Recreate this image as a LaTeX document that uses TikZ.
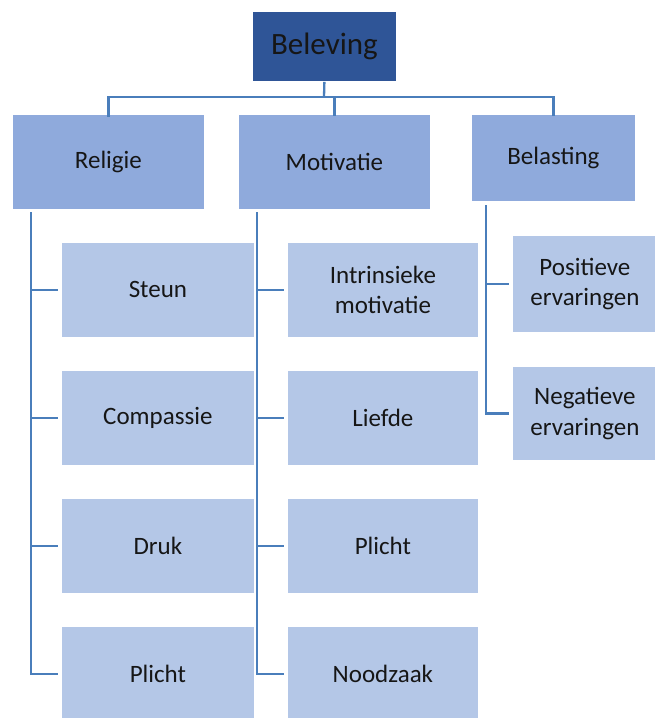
\documentclass[tikz,border=0pt]{standalone}
\usepackage{fontspec}
\setmainfont{Carlito}
\definecolor{topfill}{HTML}{2F5597}
\definecolor{midfill}{HTML}{8FAADC}
\definecolor{lowfill}{HTML}{B4C7E7}
\definecolor{linkcol}{HTML}{4A7EBB}
\definecolor{txtcol}{HTML}{161616}
\begin{document}
\begin{tikzpicture}[x=1pt,y=-1pt,
  box/.style={draw=white,line width=0.8pt,anchor=north west,inner sep=0pt,align=center,text=txtcol},
  topbox/.style={box,fill=topfill,minimum width=144pt,minimum height=70pt,font=\fontsize{31}{37}\selectfont},
  midbox/.style={box,fill=midfill,minimum height=95pt,font=\fontsize{25}{30.5}\selectfont},
  lowbox/.style={box,fill=lowfill,minimum height=95pt,font=\fontsize{25}{30.5}\selectfont},
  link/.style={draw=linkcol,line width=2.3pt}]
\useasboundingbox (0,0) rectangle (655,718);
% top
\node[topbox] (bel) at (252,11) {Beleving};
% level 2
\node[midbox,minimum width=192pt] (rel) at (12,114) {Religie};
\node[midbox,minimum width=192pt] (mot) at (238,114) {Motivatie};
\node[midbox,minimum width=164pt,minimum height=87pt] (bls) at (471,114) {Belasting};
% level 3 religie
\node[lowbox,minimum width=193pt] (steun) at (61,242) {Steun};
\node[lowbox,minimum width=193pt] (comp) at (61,370) {Compassie};
\node[lowbox,minimum width=193pt] (druk) at (61,498) {Druk};
\node[lowbox,minimum width=193pt] (pl1) at (61,626) {Plicht};
% level 3 motivatie
\node[lowbox,minimum width=191pt] (intr) at (287,242) {Intrinsieke\\motivatie};
\node[lowbox,minimum width=191pt] (lief) at (287,370) {Liefde};
\node[lowbox,minimum width=191pt] (pl2) at (287,498) {Plicht};
\node[lowbox,minimum width=191pt] (nood) at (287,626) {Noodzaak};
% level 3 belasting
\node[lowbox,minimum width=145pt,minimum height=97pt] (pos) at (512,235) {Positieve\\ervaringen};
\node[lowbox,minimum width=145pt,minimum height=94pt] (neg) at (512,366) {Negatieve\\ervaringen};
% connectors level 1 -> 2
\coordinate (hub) at (324,97);
\draw[link] (bel.south) -- (hub);
\draw[link,line cap=rect] (hub) -| ([yshift=-2pt]rel.north);
\draw[link] (hub) -| ([yshift=-2pt]bls.north);
\draw[link] (hub -| mot.north) -- ([yshift=-2pt]mot.north);
% religie children
\coordinate (rtop) at (31,212);
\draw[link] (rtop) |- ([xshift=-3pt]pl1.west);
\draw[link] (rtop |- steun.west) -- ([xshift=-3pt]steun.west);
\draw[link] (rtop |- comp.west) -- ([xshift=-3pt]comp.west);
\draw[link] (rtop |- druk.west) -- ([xshift=-3pt]druk.west);
% motivatie children
\coordinate (mtop) at (257,212);
\draw[link] (mtop) |- ([xshift=-3pt]nood.west);
\draw[link] (mtop |- intr.west) -- ([xshift=-3pt]intr.west);
\draw[link] (mtop |- lief.west) -- ([xshift=-3pt]lief.west);
\draw[link] (mtop |- pl2.west) -- ([xshift=-3pt]pl2.west);
% belasting children
\coordinate (btop) at (486,205);
\draw[link] (btop) |- ([xshift=-3pt]neg.west);
\draw[link] (btop |- pos.west) -- ([xshift=-3pt]pos.west);
\end{tikzpicture}
\end{document}
